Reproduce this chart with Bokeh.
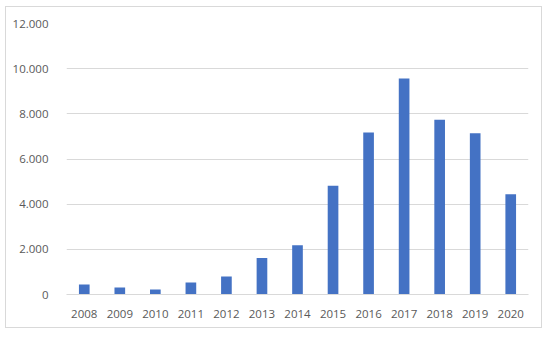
from bokeh.plotting import figure
from bokeh.models import FixedTicker, FactorRange, Range1d
from bokeh.embed import file_html
from bokeh.resources import INLINE

years = ["2008", "2009", "2010", "2011", "2012", "2013", "2014",
         "2015", "2016", "2017", "2018", "2019", "2020"]
counts = [440, 310, 220, 530, 800, 1620, 2180,
          4820, 7170, 9560, 7740, 7140, 4440]
y_ticks = [0, 2000, 4000, 6000, 8000, 10000, 12000]
y_tick_labels = ["0", "2.000", "4.000", "6.000", "8.000", "10.000", "12.000"]

p = figure(x_range=FactorRange(*years, range_padding=0), y_range=Range1d(0, 12000),
           width=537, height=322, output_backend="svg", toolbar_location=None,
           min_border_left=60, min_border_right=15, min_border_top=16, min_border_bottom=35)
p.styles = {"margin-left": "5px", "margin-top": "6px", "border": "1px solid #d9d9d9"}

p.vbar(x=years, top=counts, width=0.3, color="#4472C4", line_color=None)

p.outline_line_color = None
p.xgrid.grid_line_color = None
p.ygrid.grid_line_color = "#d9d9d9"
p.ygrid.grid_line_width = 1

p.yaxis.ticker = FixedTicker(ticks=y_ticks)
p.yaxis.major_label_overrides = {t: l for t, l in zip(y_ticks, y_tick_labels)}
for ax in (p.xaxis[0], p.yaxis[0]):
    ax.major_tick_line_color = None
    ax.minor_tick_line_color = None
    ax.major_label_text_font = "Open Sans"
    ax.major_label_text_font_size = "11.5px"
    ax.major_label_text_color = "#595959"
p.yaxis.axis_line_color = None
p.xaxis.axis_line_color = "#d9d9d9"
p.yaxis.major_label_standoff = 12
p.xaxis.major_label_standoff = 9

open("out.html", "w").write(file_html(p, INLINE))
